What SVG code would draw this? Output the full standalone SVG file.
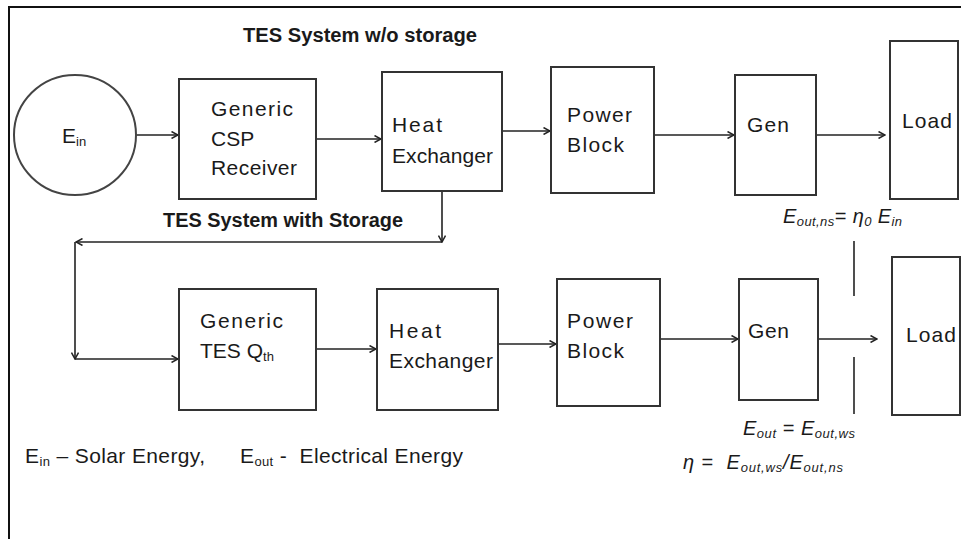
<svg xmlns="http://www.w3.org/2000/svg" width="961" height="539" viewBox="0 0 961 539">
<defs>
<marker id="ah" viewBox="0 0 8 8" refX="7" refY="4" markerWidth="8" markerHeight="8" markerUnits="userSpaceOnUse" orient="auto">
<path d="M0.5,0.5 L7,4 L0.5,7.5" fill="none" stroke="#222" stroke-width="1.5"/>
</marker>
</defs>
<style>
.box{fill:#fff;stroke:#333;stroke-width:2}
.ln{fill:none;stroke:#222;stroke-width:1.6}
.t{font-family:"Liberation Sans",Arial,sans-serif;font-size:21px;fill:#1a1a1a}
.h{font-family:"Liberation Sans",Arial,sans-serif;font-size:20px;font-weight:bold;fill:#1a1a1a}
.f{font-family:"Liberation Sans",Arial,sans-serif;font-size:20px;font-style:italic;fill:#1a1a1a}
.s{font-size:13px}
</style>
<rect x="0" y="0" width="961" height="539" fill="#fff"/>
<rect x="9" y="7" width="1000" height="600" fill="none" stroke="#111" stroke-width="2"/>

<text class="h" x="243" y="42" textLength="234" lengthAdjust="spacingAndGlyphs">TES System w/o storage</text>
<text class="h" x="163" y="227" textLength="240" lengthAdjust="spacingAndGlyphs">TES System with Storage</text>

<g id="connectors">
<line class="ln" x1="136" y1="135" x2="178" y2="135" marker-end="url(#ah)"/>
<line class="ln" x1="316" y1="139" x2="381" y2="139" marker-end="url(#ah)"/>
<line class="ln" x1="502" y1="131" x2="550" y2="131" marker-end="url(#ah)"/>
<line class="ln" x1="654" y1="135" x2="734" y2="135" marker-end="url(#ah)"/>
<line class="ln" x1="816" y1="135" x2="885" y2="135" marker-end="url(#ah)"/>
<line class="ln" x1="442" y1="191" x2="442" y2="242" marker-end="url(#ah)"/>
<line class="ln" x1="442" y1="242" x2="76" y2="242" marker-end="url(#ah)"/>
<line class="ln" x1="75" y1="242" x2="75" y2="359" marker-end="url(#ah)"/>
<line class="ln" x1="75" y1="359" x2="178" y2="359" marker-end="url(#ah)"/>
<line class="ln" x1="316" y1="349" x2="376" y2="349" marker-end="url(#ah)"/>
<line class="ln" x1="498" y1="344" x2="556" y2="344" marker-end="url(#ah)"/>
<line class="ln" x1="660" y1="339" x2="738" y2="339" marker-end="url(#ah)"/>
<line class="ln" x1="818" y1="339" x2="877" y2="339" marker-end="url(#ah)"/>
<line class="ln" x1="854" y1="241" x2="854" y2="296"/>
<line class="ln" x1="854" y1="357" x2="854" y2="414"/>
</g>

<g id="ein">
<ellipse cx="75" cy="135" rx="61" ry="60" fill="#fff" stroke="#444" stroke-width="2"/>
<text class="t" x="62" y="143">E<tspan class="s" dy="3">in</tspan></text>
</g>
<g id="csp">
<rect class="box" x="179" y="79" width="137" height="120"/>
<text class="t" x="211" y="116" textLength="82">Generic</text>
<text class="t" x="211" y="146">CSP</text>
<text class="t" x="211" y="175" textLength="86">Receiver</text>
</g>
<g id="hx1">
<rect class="box" x="382" y="72" width="120" height="119"/>
<text class="t" x="392" y="132" textLength="50">Heat</text>
<text class="t" x="392" y="163" textLength="101">Exchanger</text>
</g>
<g id="pb1">
<rect class="box" x="551" y="67" width="103" height="126"/>
<text class="t" x="567" y="122" textLength="65">Power</text>
<text class="t" x="567" y="152" textLength="57">Block</text>
</g>
<g id="gen1">
<rect class="box" x="735" y="75" width="81" height="120"/>
<text class="t" x="747" y="132" textLength="42">Gen</text>
</g>
<g id="load1">
<rect class="box" x="890" y="41" width="68" height="158"/>
<text class="t" x="902" y="128" textLength="50">Load</text>
</g>

<g id="tes">
<rect class="box" x="179" y="289" width="137" height="121"/>
<text class="t" x="200" y="328" textLength="83">Generic</text>
<text class="t" x="200" y="358">TES Q<tspan class="s" dy="3">th</tspan></text>
</g>
<g id="hx2">
<rect class="box" x="377" y="289" width="121" height="121"/>
<text class="t" x="389" y="338" textLength="52">Heat</text>
<text class="t" x="389" y="368" textLength="104">Exchanger</text>
</g>
<g id="pb2">
<rect class="box" x="557" y="279" width="103" height="127"/>
<text class="t" x="567" y="328" textLength="66">Power</text>
<text class="t" x="567" y="358" textLength="57">Block</text>
</g>
<g id="gen2">
<rect class="box" x="739" y="279" width="79" height="121"/>
<text class="t" x="748" y="338" textLength="41">Gen</text>
</g>
<g id="load2">
<rect class="box" x="892" y="257" width="68" height="158"/>
<text class="t" x="906" y="342" textLength="50">Load</text>
</g>

<text class="f" x="783" y="223" textLength="119">E<tspan class="s" dy="3">out,ns</tspan><tspan dy="-3">= η</tspan><tspan class="s" dy="3">0</tspan><tspan dy="-3"> E</tspan><tspan class="s" dy="3">in</tspan></text>
<text class="f" x="743" y="435" textLength="112">E<tspan class="s" dy="3">out</tspan><tspan dy="-3"> = E</tspan><tspan class="s" dy="3">out,ws</tspan></text>
<text class="f" x="683" y="469" xml:space="preserve" textLength="160">η =  E<tspan class="s" dy="3">out,ws</tspan><tspan dy="-3">/E</tspan><tspan class="s" dy="3">out,ns</tspan></text>

<text class="t" x="25" y="463" textLength="180">E<tspan class="s" dy="3">in</tspan><tspan dy="-3"> – Solar Energy,</tspan></text>
<text class="t" x="240" y="463" xml:space="preserve" textLength="223">E<tspan class="s" dy="3">out</tspan><tspan dy="-3"> -  Electrical Energy</tspan></text>
</svg>
